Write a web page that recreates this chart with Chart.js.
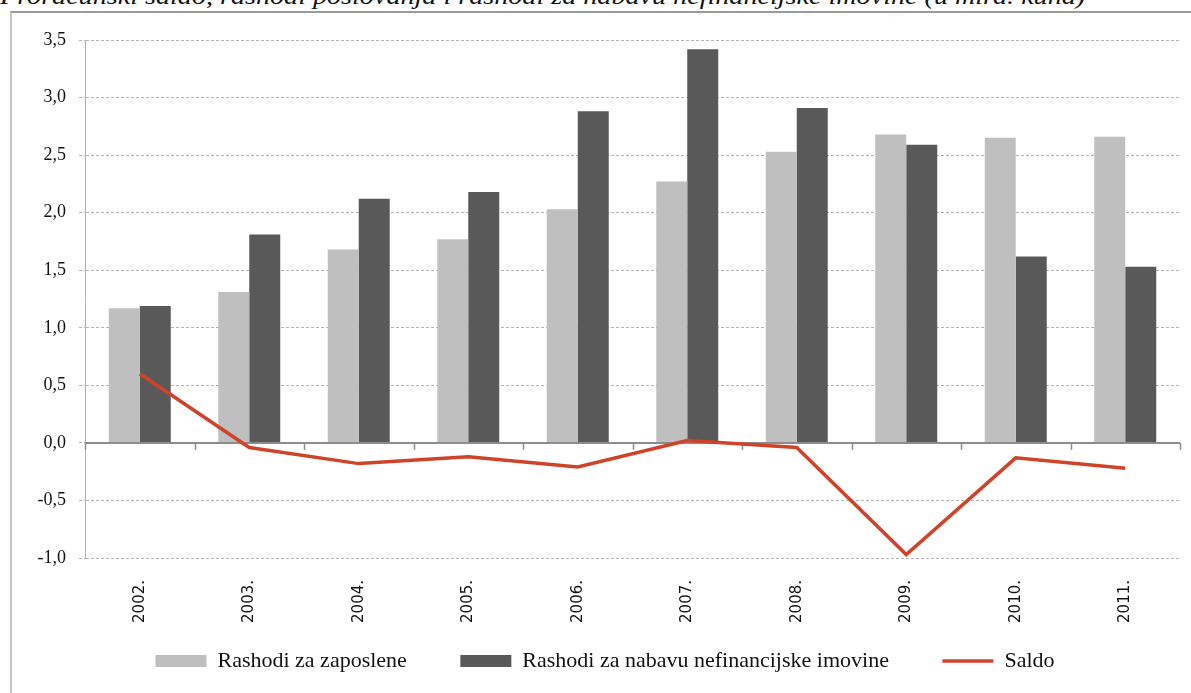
<!DOCTYPE html>
<html>
<head>
<meta charset="utf-8">
<script src="https://cdn.jsdelivr.net/npm/chart.js@4/dist/chart.umd.min.js"></script>
<style>
  html, body { margin: 0; padding: 0; background: #fff; overflow: hidden; }
  body { width: 1191px; height: 693px; position: relative; }
  #naslov {
    position: absolute; left: 0; top: -16px;
    font-family: "Liberation Serif", serif; font-style: italic; font-size: 24px;
    line-height: 24px; white-space: nowrap; color: #111;
    transform-origin: 0 0;
  }
  #okvir {
    position: absolute; left: 10px; top: 11px; width: 1300px; height: 800px;
    border-top: 2px solid #9a9a9a; border-left: 2px solid #c4c4c4;
  }
  #grafikon { position: absolute; left: 0; top: 0; }
</style>
</head>
<body>
<div id="naslov">Proračunski saldo, rashodi poslovanja i rashodi za nabavu nefinancijske imovine (u mlrd. kuna)</div>
<div id="okvir"></div>
<canvas id="grafikon" width="1191" height="693"></canvas>
<script>
// podaci (mlrd. kuna)
const godine = ["2002.", "2003.", "2004.", "2005.", "2006.", "2007.", "2008.", "2009.", "2010.", "2011."];
const zaposleni = [1.17, 1.31, 1.68, 1.77, 2.03, 2.27, 2.53, 2.68, 2.65, 2.66];
const nefinImovina = [1.19, 1.81, 2.12, 2.18, 2.88, 3.42, 2.91, 2.59, 1.62, 1.53];
const saldo = [0.60, -0.04, -0.18, -0.12, -0.21, 0.02, -0.04, -0.97, -0.13, -0.22];

// naslov rastegnut na sirinu iz originala
const naslov = document.getElementById("naslov");
naslov.style.transform = "scaleX(" + (1085 / naslov.offsetWidth) + ")";

// nulta os s kratkim crticama izmedju godina
const nultaOs = {
    id: "nultaOs",
    beforeDatasetDraw: function(chart, args) {
        if (args.index !== 2) return;
        const ctx = chart.ctx;
        const x = chart.scales.x;
        const y0 = chart.scales.y.getPixelForValue(0);
        const area = chart.chartArea;
        ctx.save();
        ctx.strokeStyle = "#8c8c8c";
        ctx.lineWidth = 2;
        ctx.beginPath();
        ctx.moveTo(area.left, y0);
        ctx.lineTo(area.right, y0);
        ctx.stroke();
        ctx.lineWidth = 1.5;
        const korak = x.getPixelForValue(1) - x.getPixelForValue(0);
        for (let i = 0; i <= godine.length; i++) {
            const px = Math.round(x.getPixelForValue(0) - korak / 2 + i * korak) + 0.5;
            ctx.beginPath();
            ctx.moveTo(px, y0);
            ctx.lineTo(px, y0 + 7);
            ctx.stroke();
        }
        ctx.restore();
    }
};

const defaultLabels = Chart.defaults.plugins.legend.labels.generateLabels;

new Chart(document.getElementById("grafikon").getContext("2d"), {
    type: "bar",
    data: {
        labels: godine,
        datasets: [{
            label: "Rashodi za zaposlene",
            data: zaposleni,
            backgroundColor: "#bfbfbf",
            borderWidth: 0,
            pointStyle: "rect",
            order: 1
        }, {
            label: "Rashodi za nabavu nefinancijske imovine",
            data: nefinImovina,
            backgroundColor: "#595959",
            borderWidth: 0,
            pointStyle: "rect",
            order: 1
        }, {
            type: "line",
            label: "Saldo",
            data: saldo,
            borderColor: "#cf4329",
            backgroundColor: "#cf4329",
            borderWidth: 3.5,
            pointRadius: 0,
            pointStyle: "line",
            tension: 0,
            order: 0
        }]
    },
    options: {
        responsive: false,
        animation: false,
        devicePixelRatio: 1,
        layout: { padding: { left: 30, right: 11, top: 40, bottom: 11 } },
        datasets: {
            bar: { categoryPercentage: 0.566, barPercentage: 1.0 }
        },
        plugins: {
            legend: {
                display: true,
                position: "bottom",
                labels: {
                    usePointStyle: true,
                    pointStyleWidth: 51,
                    boxHeight: 12,
                    padding: 26,
                    color: "#111",
                    font: { family: "'Liberation Serif', serif", size: 22 },
                    sort: (a, b) => a.datasetIndex - b.datasetIndex,
                    // malo veci razmak izmedju stavki legende
                    generateLabels: function(chart) {
                        const items = defaultLabels(chart);
                        items.forEach(it => {
                            if (it.datasetIndex < 2) it.text += "\u00a0\u00a0\u00a0\u00a0\u00a0";
                        });
                        return items;
                    }
                }
            },
            tooltip: { enabled: false }
        },
        scales: {
            x: {
                grid: { display: false },
                border: { display: false },
                afterFit: function(scale) { scale.height = 66; },
                ticks: {
                    minRotation: 90,
                    maxRotation: 90,
                    padding: 14,
                    color: "#111",
                    font: { family: "'DejaVu Sans', 'Liberation Sans', sans-serif", size: 15 }
                }
            },
            y: {
                min: -1,
                max: 3.5,
                afterFit: function(scale) { scale.width = 55; },
                grid: {
                    color: "#b3b3b3",
                    lineWidth: 1,
                    tickLength: 6,
                    tickColor: "#b3b3b3",
                    tickBorderDash: [3, 2]
                },
                border: { display: true, color: "#b3b3b3", dash: [3, 2] },
                ticks: {
                    stepSize: 0.5,
                    padding: 13,
                    color: "#111",
                    font: { family: "'Liberation Serif', serif", size: 18 },
                    callback: function(v) { return v.toFixed(1).replace(".", ","); }
                }
            }
        }
    },
    plugins: [nultaOs]
});
</script>
</body>
</html>
